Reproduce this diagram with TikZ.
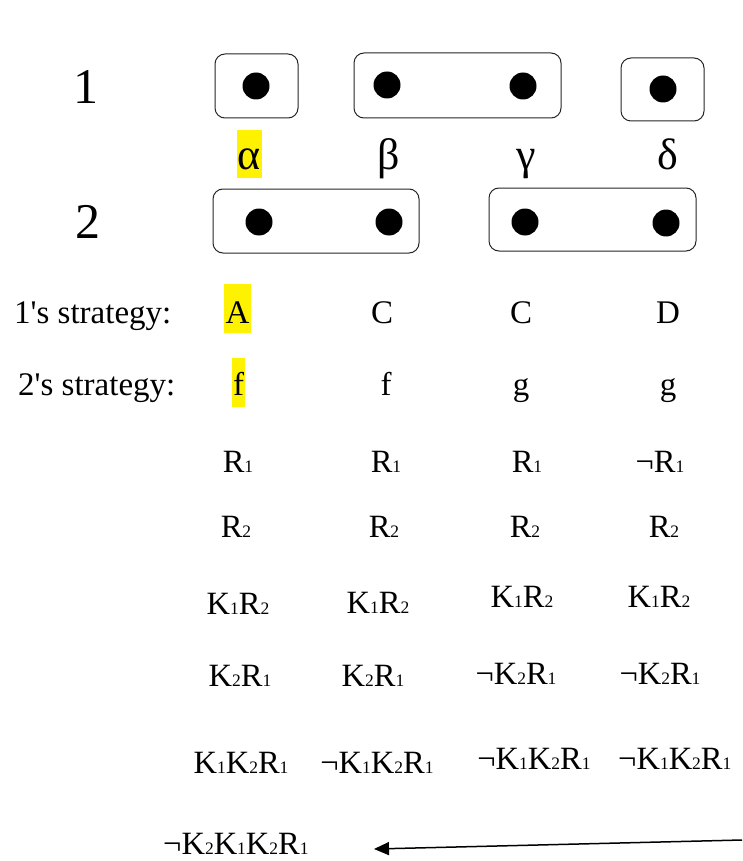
\documentclass[tikz,border=0pt]{standalone}
\usepackage{fontspec}
\setmainfont{Liberation Serif}
\usetikzlibrary{arrows.meta}
\newcommand\sbs[1]{{\fontsize{17.5}{17.5}\selectfont #1}}
\begin{document}
\begin{tikzpicture}[x=1pt,y=-1pt,
 infoset/.style={draw=black!85, line width=1pt, rounded corners=10pt, inner sep=0pt},
 dot/.style={circle, fill=black, inner sep=0pt, minimum size=27pt},
 big/.style={font=\fontsize{50}{50}\selectfont, anchor=base, inner sep=0pt},
 greek/.style={font=\fontsize{44}{44}\selectfont, anchor=base, inner sep=0pt},
 strat/.style={font=\fontsize{33}{33}\selectfont, anchor=base, inner sep=0pt},
 form/.style={font=\fontsize{32.5}{32.5}\selectfont, anchor=base, inner sep=0pt},
 hl/.style={fill=yellow, draw=none}]
\useasboundingbox (0,0) rectangle (742,861);
\fill[white] (0,0) rectangle (742,861);
% highlights
\fill[hl] (237,130) rectangle (262,178);
\fill[hl] (224,284) rectangle (251,333);
\fill[hl] (232,358) rectangle (245,407);
% player labels
\node[big] (p1) at (86,104) {1};
\node[big] (p2) at (88,238) {2};
% information sets, player 1
\node[infoset, minimum width=83pt, minimum height=64pt] (i11) at (256.5,86) {};
\node[infoset, minimum width=207pt, minimum height=65pt] (i12) at (457.5,85.5) {};
\node[infoset, minimum width=83pt, minimum height=63pt] (i13) at (662.5,89.5) {};
% information sets, player 2
\node[infoset, minimum width=206pt, minimum height=64pt] (i21) at (316,221) {};
\node[infoset, minimum width=207pt, minimum height=63pt] (i22) at (592.5,219.5) {};
% dots
\node[dot] (d1a) at (256,86) {};
\node[dot] (d1b) at (387,85) {};
\node[dot] (d1c) at (523,86) {};
\node[dot] (d1d) at (663,89) {};
\node[dot] (d2a) at (259,222) {};
\node[dot] (d2b) at (389,222) {};
\node[dot] (d2c) at (525,222) {};
\node[dot] (d2d) at (666,223) {};
% states
\node[greek] (ga) at (249.5,170) {α};
\node[greek] (gb) at (389,170) {β};
\node[greek] (gc) at (526,170) {γ};
\node[greek] (gd) at (668,170) {δ};
% strategies
\node[strat, anchor=base west] (s1) at (14,323) {1\textquotesingle s strategy:};
\node[strat] (s1a) at (237.5,323) {A};
\node[strat] (s1b) at (382,323) {C};
\node[strat] (s1c) at (521,323) {C};
\node[strat] (s1d) at (668,323) {D};
\node[strat, anchor=base west] (s2) at (18,395) {2\textquotesingle s strategy:};
\node[strat] (s2a) at (238.5,395) {f};
\node[strat] (s2b) at (386,395) {f};
\node[strat] (s2c) at (521,395) {g};
\node[strat] (s2d) at (668,395) {g};
% formulas
\node[form] (r1a) at (238,472) {R\sbs{1}};
\node[form] (r1b) at (386,472) {R\sbs{1}};
\node[form] (r1c) at (527,472) {R\sbs{1}};
\node[form] (r1d) at (660,472) {¬R\sbs{1}};
\node[form] (r2a) at (236,537) {R\sbs{2}};
\node[form] (r2b) at (384,537) {R\sbs{2}};
\node[form] (r2c) at (525,537) {R\sbs{2}};
\node[form] (r2d) at (664,537) {R\sbs{2}};
\node[form] (k1a) at (238,614) {K\sbs{1}R\sbs{2}};
\node[form] (k1b) at (378,613) {K\sbs{1}R\sbs{2}};
\node[form] (k1c) at (522,607) {K\sbs{1}R\sbs{2}};
\node[form] (k1d) at (659,607) {K\sbs{1}R\sbs{2}};
\node[form] (k2a) at (240,686) {K\sbs{2}R\sbs{1}};
\node[form] (k2b) at (373,686) {K\sbs{2}R\sbs{1}};
\node[form] (k2c) at (516,684) {¬K\sbs{2}R\sbs{1}};
\node[form] (k2d) at (660,684) {¬K\sbs{2}R\sbs{1}};
\node[form] (k3a) at (241,773) {K\sbs{1}K\sbs{2}R\sbs{1}};
\node[form] (k3b) at (377,773) {¬K\sbs{1}K\sbs{2}R\sbs{1}};
\node[form] (k3c) at (534,769) {¬K\sbs{1}K\sbs{2}R\sbs{1}};
\node[form, anchor=base west] (k3d) at (618,769) {¬K\sbs{1}K\sbs{2}R\sbs{1}};
\node[form, anchor=base west] (k4) at (163,854) {¬K\sbs{2}K\sbs{1}K\sbs{2}R\sbs{1}};
% arrow
\coordinate (arrS) at (742,840);
\coordinate (arrT) at (374,849);
\draw[line width=1.5pt, -{Triangle[length=15pt,width=13pt]}] (arrS) -- (arrT);
\end{tikzpicture}
\end{document}
